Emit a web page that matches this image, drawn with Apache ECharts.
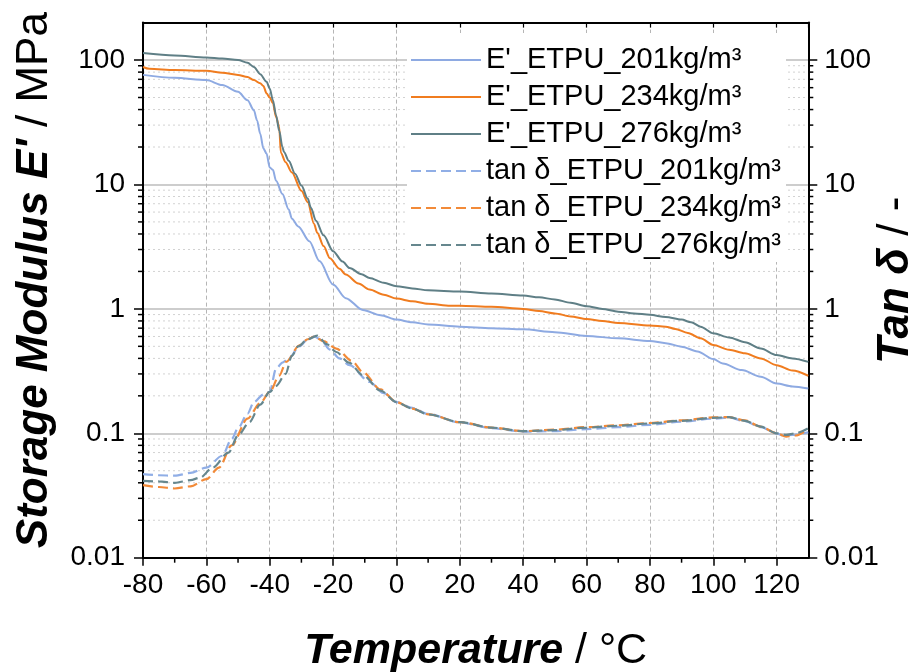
<!DOCTYPE html>
<html><head><meta charset="utf-8">
<script src="https://cdn.jsdelivr.net/npm/echarts@6/dist/echarts.min.js"></script>
<style>html,body{margin:0;padding:0;background:#fff}#c{width:919px;height:672px}</style>
</head><body><div id="c"></div>
<script>
// ---- data ----
const seriesNames = ["E'_ETPU_201kg/m³", "E'_ETPU_234kg/m³", "E'_ETPU_276kg/m³",
  "tan δ_ETPU_201kg/m³", "tan δ_ETPU_234kg/m³", "tan δ_ETPU_276kg/m³"];
const xTicks = [-80, -60, -40, -20, 0, 20, 40, 60, 80, 100, 120];

const tE201 = [-80,-70,-60,-55,-50,-47,-45,-44,-43,-42,-41,-40,-39,-38,-36,-34,-33,-31,-27.5,-24.3,-20,-16,-10.6,-5,0,5,10,20,30,40,50,60,70,80,85,90,95,100,103,109,115,120,125,130];
const vE201 = [76,72,69,63,55.5,47.5,39.5,32.7,25.6,19.5,17.7,13.7,13.1,10.7,8.4,6.3,5.3,4.6,3.5,2.42,1.57,1.22,0.98,0.89,0.82,0.78,0.75,0.72,0.70,0.686,0.65,0.606,0.58,0.552,0.53,0.497,0.455,0.395,0.364,0.322,0.285,0.251,0.238,0.229];

const tE234 = [-80,-78,-70,-60,-55,-50,-47,-45,-43,-42,-41,-40,-39,-38,-37,-36.5,-35,-33,-30,-28,-26,-25,-23,-21,-18,-16,-12,-8.5,-4,0,5,10,17,20,30,40,45,50,55,60,65,70,80,85,88,92,96,100,105,110,115,120,125,130];
const vE234 = [88,85,83,82,79,76,73,69,65,62,54,50,45,35,29,18,15.1,12.5,8.9,7.2,4.8,4.1,3.2,2.55,2.1,1.89,1.6,1.43,1.3,1.21,1.15,1.1,1.06,1.06,1.04,1.0,0.96,0.92,0.87,0.83,0.8,0.77,0.735,0.72,0.69,0.64,0.58,0.513,0.47,0.44,0.40,0.353,0.32,0.29];

const tE276 = [-80,-70,-60,-55,-50,-47,-45,-43,-41,-40,-39,-38,-37,-36,-35.5,-34,-32,-30,-28,-27,-25.4,-23,-20,-17,-14.8,-11,-8.5,-4,0,5,10,20,30,40,45,50,55,60,65,70,75,80,85,90,93,96,100,105,110,115,120,125,130];
const vE276 = [114,109,105,103,100,95,88,77,67,59,47.6,36,27,20,18.2,15.5,12.2,9.8,7.7,6.5,5.1,3.9,2.91,2.4,2.13,1.9,1.77,1.62,1.52,1.46,1.41,1.38,1.33,1.28,1.24,1.19,1.12,1.05,1.0,0.95,0.92,0.896,0.86,0.82,0.78,0.72,0.637,0.59,0.54,0.48,0.425,0.40,0.375];

const tT201 = [-80,-75,-70,-65,-60,-55,-52,-50,-47,-45,-42,-40,-38,-36,-34,-30.6,-28,-26,-24,-21,-18,-14.8,-8.5,-4,0,5,10,20,30,40,50,60,70,80,90,100,105,110,115,120,122,125,130];
const vT201 = [0.047,0.046,0.0456,0.048,0.053,0.066,0.09,0.11,0.144,0.178,0.205,0.215,0.33,0.37,0.40,0.50,0.57,0.60,0.57,0.47,0.40,0.353,0.259,0.21,0.178,0.16,0.143,0.122,0.11,0.103,0.104,0.108,0.112,0.117,0.124,0.131,0.134,0.125,0.112,0.10,0.096,0.097,0.102];

const tT234 = [-80,-75,-70,-65,-60,-56,-52,-47,-43,-40,-37,-34.8,-30.6,-28,-26,-23,-19,-14,-10.6,-5,0,5,10,20,30,40,50,60,70,80,90,100,105,110,115,120,123,126,130];
const vT234 = [0.0383,0.037,0.036,0.0375,0.0428,0.053,0.08,0.131,0.175,0.215,0.29,0.376,0.51,0.57,0.60,0.55,0.48,0.38,0.31,0.225,0.178,0.158,0.142,0.123,0.111,0.104,0.107,0.112,0.116,0.121,0.127,0.134,0.135,0.127,0.113,0.10,0.094,0.096,0.108];

const tT276 = [-80,-75,-70,-65,-62,-58,-53,-50,-46.4,-43,-40,-38,-35,-33,-31,-28,-25,-22,-19,-15,-10.6,-5,0,5,10,20,30,40,50,60,70,80,90,100,105,110,115,120,123,126,130];
const vT276 = [0.0415,0.041,0.040,0.042,0.044,0.053,0.070,0.096,0.123,0.17,0.215,0.24,0.30,0.42,0.50,0.57,0.61,0.52,0.45,0.37,0.293,0.22,0.178,0.158,0.142,0.123,0.111,0.104,0.106,0.111,0.115,0.12,0.126,0.133,0.135,0.126,0.113,0.10,0.097,0.10,0.11];

// ---- chart ----
const FONT = 'Liberation Sans, Arial, sans-serif';
const cBlue = '#8eaae2', cOrange = '#f07c1f', cDark = '#5f7f86';
const cBlueD = '#90aee6', cOrangeD = '#f28a38', cDarkD = '#66878e';

function pairs(t, v) { return t.map((x, i) => [x, v[i]]); }

function lineSeries(name, t, v, color, yIdx, dashed, z) {
  return {
    name, type: 'line', yAxisIndex: yIdx, data: pairs(t, v),
    symbol: 'none', smooth: 0.3, smoothMonotone: 'x', z: z,
    lineStyle: { color, width: dashed ? 2.2 : 2, type: dashed ? [10, 5] : 'solid' },
    itemStyle: { color }
  };
}

const chart = echarts.init(document.getElementById('c'), null, { renderer: 'canvas' });
const axisLineStyle = { color: '#000', width: 2 };
const titleRich = (fs) => ({
  b: { fontSize: fs, fontWeight: 'bold', fontStyle: 'italic', color: '#000', fontFamily: FONT },
  n: { fontSize: fs, color: '#000', fontFamily: FONT }
});
const option = {
  animation: false,
  backgroundColor: '#fff',
  textStyle: { fontFamily: FONT },
  grid: { left: 143, right: 110.7, top: 22.6, bottom: 114.3, containLabel: false, outerBoundsMode: 'none' },
  legend: {
    data: seriesNames, left: 407, top: 33, orient: 'vertical',
    padding: [12, 5, 2, 3], backgroundColor: '#fff',
    itemWidth: 70, itemHeight: 14, itemGap: 7,
    itemStyle: { opacity: 0 },
    textStyle: { fontSize: 29, color: '#000', lineHeight: 30, fontFamily: FONT }
  },
  xAxis: [{
    type: 'value', min: -80, max: 130, interval: 20, position: 'bottom',
    axisLine: { show: true, onZero: false, lineStyle: axisLineStyle },
    axisTick: { show: true, length: 8, lineStyle: { color: '#000', width: 1.5 } },
    axisLabel: { fontSize: 28, color: '#000', margin: 14, showMaxLabel: false },
    splitLine: { show: true, lineStyle: { color: '#b5b5b5', width: 1, type: [4, 3] } },
    name: '{b|Temperature}{n| / °C}', nameLocation: 'middle', nameGap: 72,
    nameTextStyle: { rich: titleRich(43) }
  }, {
    type: 'value', min: -80, max: 130, interval: 20, position: 'top',
    axisLine: { show: true, onZero: false, lineStyle: axisLineStyle },
    axisTick: { show: true, inside: true, length: 5, lineStyle: { color: '#000', width: 1.2 } },
    axisLabel: { show: false }, splitLine: { show: false }
  }],
  yAxis: [{
    type: 'log', logBase: 10, min: 0.01, max: 200, position: 'left',
    axisLine: { show: true, onZero: false, lineStyle: axisLineStyle },
    axisTick: { show: true, length: 9, lineStyle: { color: '#000', width: 1.5 } },
    axisLabel: { fontSize: 28, color: '#000', margin: 18, showMaxLabel: false },
    splitLine: { show: true, lineStyle: { color: '#bdbdbd', width: 1.5 } },
    name: "{b|Storage Modulus E'}{n| / MPa}", nameLocation: 'middle', nameGap: 86,
    nameTextStyle: { padding: [0, 0, 0, 20], rich: titleRich(44) }
  }, {
    type: 'log', logBase: 10, min: 0.01, max: 200, position: 'right',
    axisLine: { show: true, onZero: false, lineStyle: axisLineStyle },
    axisTick: { show: true, length: 9, lineStyle: { color: '#000', width: 1.5 } },
    axisLabel: { fontSize: 28, color: '#000', margin: 16, showMaxLabel: false },
    splitLine: { show: false },
    name: '{b|Tan δ}{n| / -}', nameLocation: 'middle', nameGap: 66, nameRotate: 90,
    nameMoveOverlap: false,
    nameTextStyle: { padding: [0, 0, 0, 20], rich: titleRich(44) }
  }],
  series: [
    lineSeries(seriesNames[0], tE201, vE201, cBlue, 0, false, 3),
    lineSeries(seriesNames[1], tE234, vE234, cOrange, 0, false, 3),
    lineSeries(seriesNames[2], tE276, vE276, cDark, 0, false, 3),
    lineSeries(seriesNames[3], tT201, vT201, cBlueD, 1, true, 2),
    lineSeries(seriesNames[4], tT234, vT234, cOrangeD, 1, true, 2),
    lineSeries(seriesNames[5], tT276, vT276, cDarkD, 1, true, 2)
  ]
};
chart.setOption(option);

// minor gridlines and minor ticks positioned through the axes' own scales
function addMinor() {
  const g = [];
  const xL = chart.convertToPixel({ xAxisIndex: 0 }, -80);
  const xR = chart.convertToPixel({ xAxisIndex: 0 }, 130);
  const yB = chart.convertToPixel({ yAxisIndex: 0 }, 0.01);
  for (let k = -2; k <= 2; k++) {
    for (let m = 2; m <= 9; m++) {
      const v = m * Math.pow(10, k);
      if (v >= 200) continue;
      const y = chart.convertToPixel({ yAxisIndex: 0 }, v);
      g.push({ type: 'line', silent: true, z: 0, shape: { x1: xL, y1: y, x2: xR, y2: y },
        style: { stroke: '#d2d2d2', lineWidth: 1, lineDash: [2, 3] } });
      g.push({ type: 'line', silent: true, z: 10, shape: { x1: xL - 5, y1: y, x2: xL, y2: y },
        style: { stroke: '#000', lineWidth: 1.5 } });
      g.push({ type: 'line', silent: true, z: 10, shape: { x1: xR, y1: y, x2: xR + 5, y2: y },
        style: { stroke: '#000', lineWidth: 1.5 } });
    }
  }
  for (let t = -70; t <= 110; t += 20) {
    const x = chart.convertToPixel({ xAxisIndex: 0 }, t);
    g.push({ type: 'line', silent: true, z: 10, shape: { x1: x, y1: yB, x2: x, y2: yB + 5 },
      style: { stroke: '#000', lineWidth: 1.5 } });
  }
  chart.setOption({ graphic: { elements: g } });
}
addMinor();
</script>
</body></html>
